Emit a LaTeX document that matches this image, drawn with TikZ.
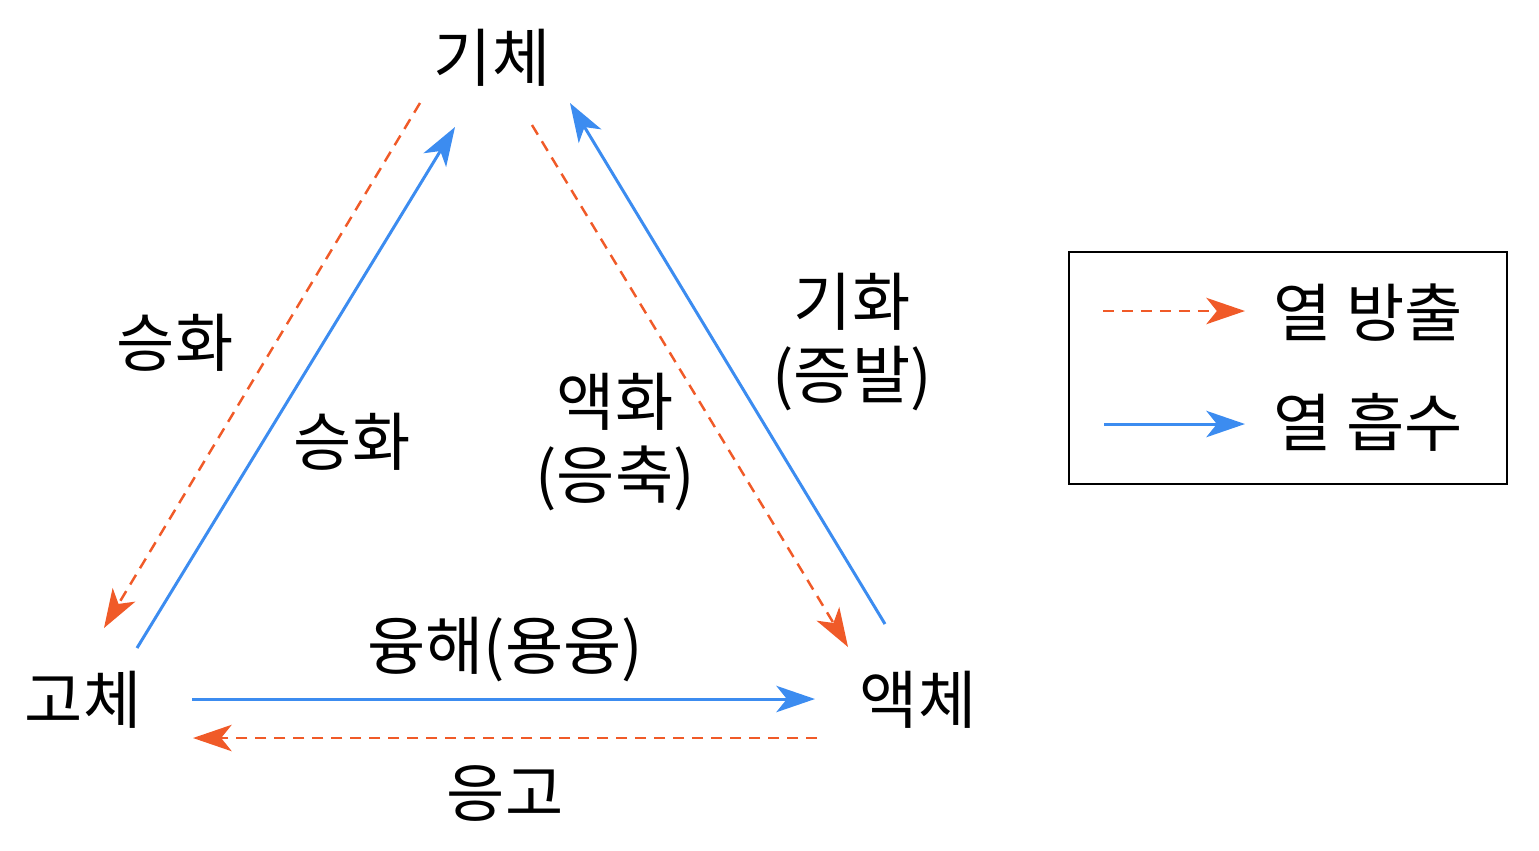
\documentclass[tikz,border=0pt]{standalone}
\usepackage{fontspec}
\setmainfont{Noto Sans CJK KR}
\usetikzlibrary{
    arrows.meta,
    positioning
}
\definecolor{release}{HTML}{F05A28}
\definecolor{absorb}{HTML}{3C8CF0}

\begin{document}
\begin{tikzpicture}[x=0.01cm, y=-0.01cm,
    every node/.style={font=\fontsize{18}{21}\selectfont, inner sep=0pt, align=center},
    tip/.style={-{Stealth[length=11pt, width=7.5pt, inset=3pt]}},
    heatout/.style={tip, draw=release, line width=0.7pt, dash pattern=on 3.2pt off 2.2pt},
    heatin/.style={tip, draw=absorb, line width=0.85pt}]
    \useasboundingbox (0,0) rectangle (1539,850);
    % states
    \node (gas) at (492,58) {기체};
    \node (solid) at (83,700) {고체};
    \node (liquid) at (918,700) {액체};
    % end points of the arrows
    \coordinate (gs1) at (420,103);   \coordinate (gs2) at (104,628);
    \coordinate (sg1) at (137,648);   \coordinate (sg2) at (455,127);
    \coordinate (gl1) at (532,125);   \coordinate (gl2) at (848,647);
    \coordinate (lg1) at (885,624);   \coordinate (lg2) at (570,103);
    \coordinate (sl1) at (192,699);   \coordinate (sl2) at (815,699);
    \coordinate (ls1) at (817,738);   \coordinate (ls2) at (193,738);
    \draw[heatout] (gs1) -- (gs2);
    \draw[heatin] (sg1) -- (sg2);
    \draw[heatout] (gl1) -- (gl2);
    \draw[heatin] (lg1) -- (lg2);
    \draw[heatin] (sl1) -- (sl2);
    \draw[heatout] (ls1) -- (ls2);
    % labels
    \node (depo) at (175,343) {승화};
    \node (subl) at (352,442) {승화};
    \node (cond) at (615,442) {액화\\(응축)};
    \node (evap) at (852,342) {기화\\(증발)};
    \node (melt) at (505,650) {융해(용융)};
    \node (free) at (505,793) {응고};
    % legend
    \node[draw, line width=0.6pt, minimum width=4.38cm, minimum height=2.32cm] (legend) at (1288,368) {};
    \coordinate (k1) at (1103,311);   \coordinate (k2) at (1245,311);
    \coordinate (k3) at (1104,424);   \coordinate (k4) at (1245,424);
    \draw[heatout] (k1) -- (k2);
    \draw[heatin] (k3) -- (k4);
    \node[anchor=west] (outtext) at (1273,313) {열 방출};
    \node[anchor=west] (intext) at (1273,422) {열 흡수};
\end{tikzpicture}
\end{document}
